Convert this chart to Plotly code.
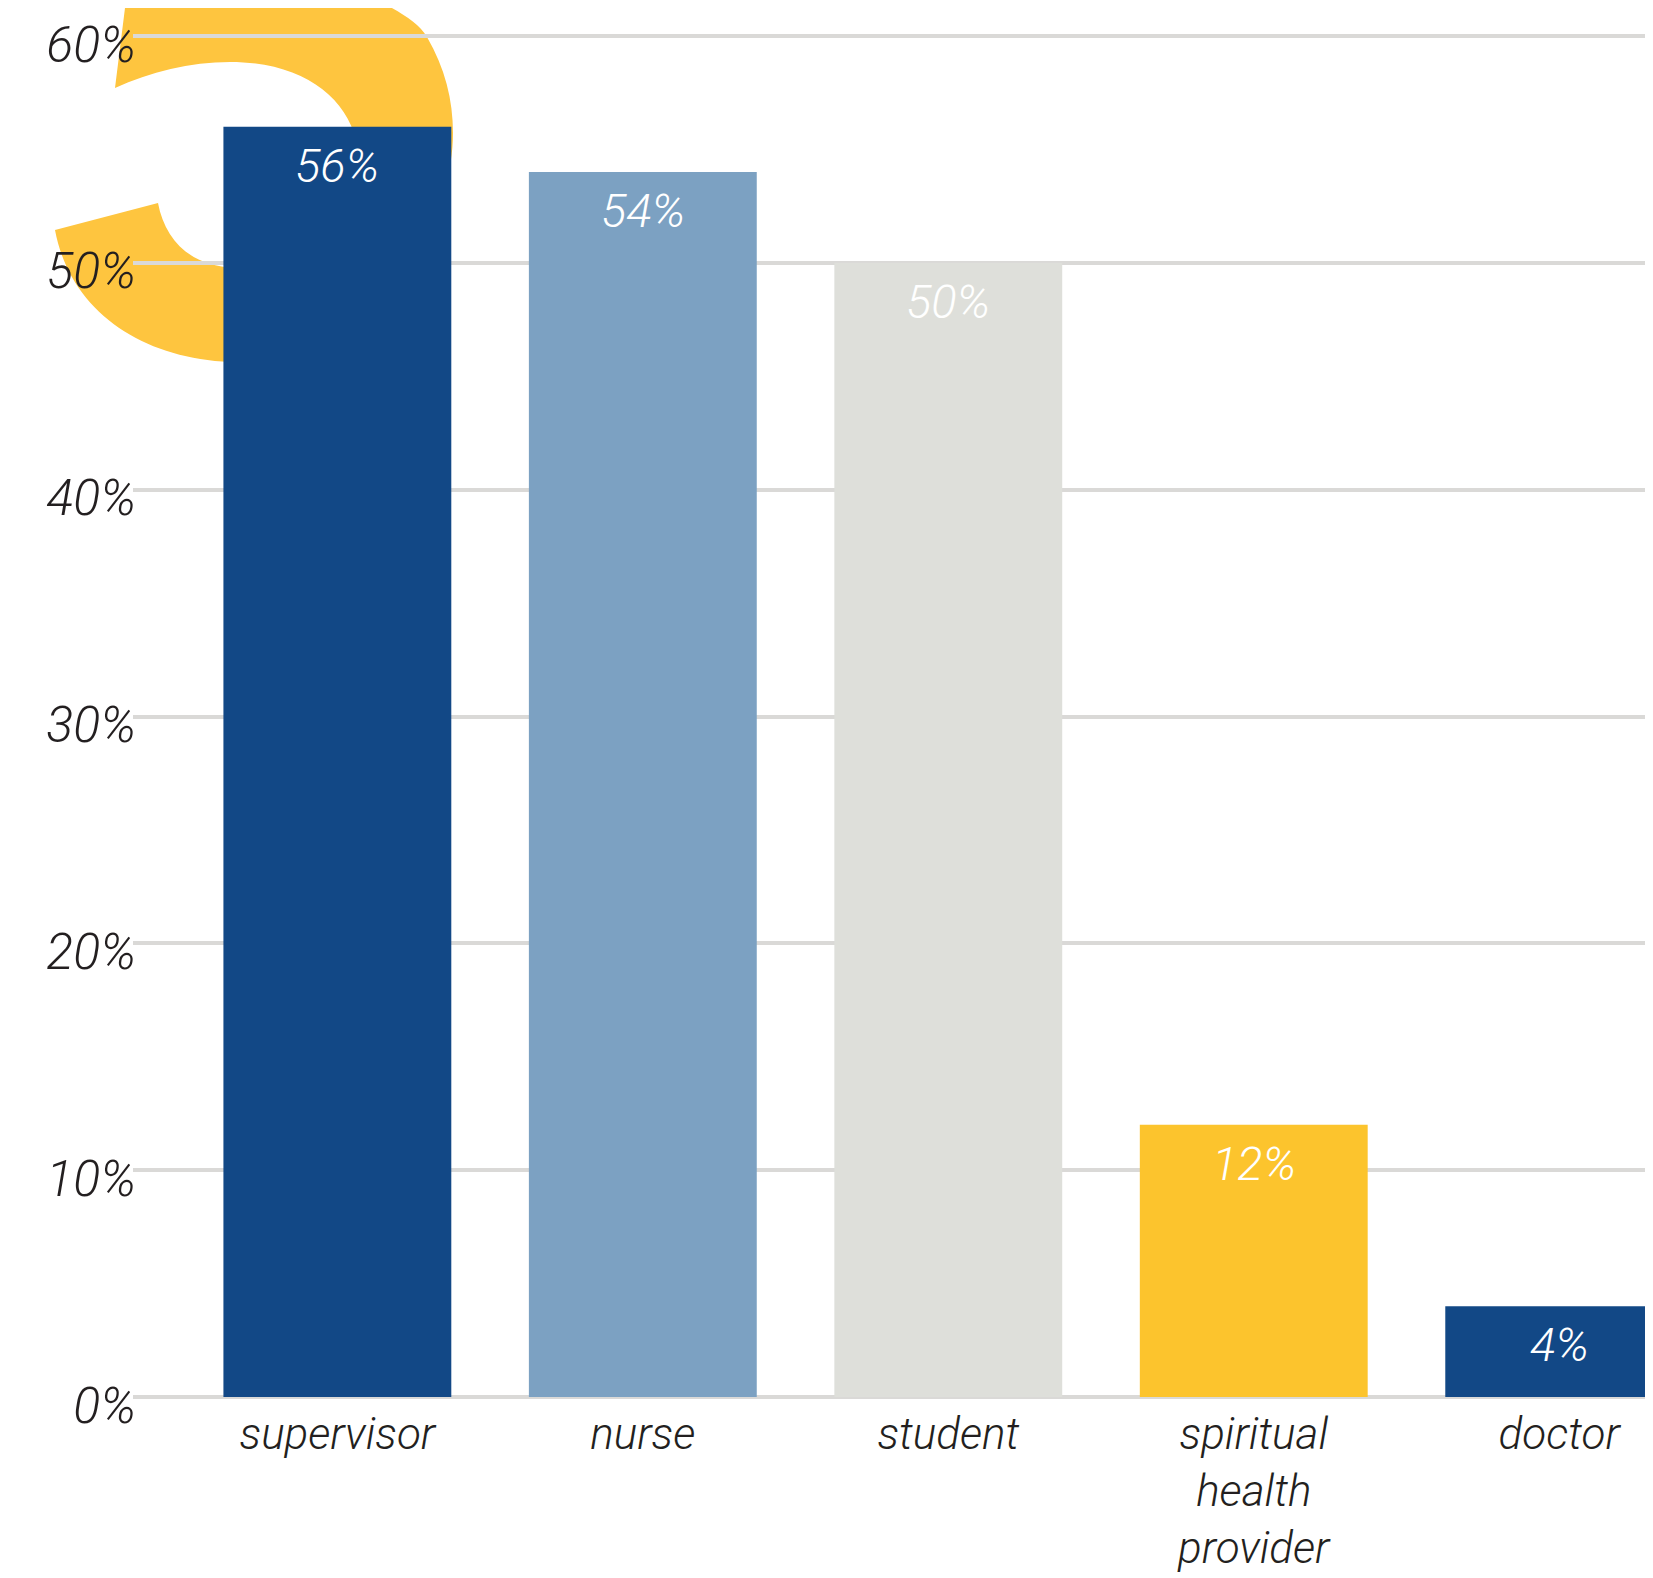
import plotly.graph_objects as go

# data
categories = ["supervisor", "nurse", "student", "spiritual<br>health<br>provider", "doctor"]
values = [56, 54, 50, 12, 4]
bar_colors = ["#124886", "#7ca1c2", "#dedfda", "#fcc42d", "#124886"]
y_ticks = [0, 10, 20, 30, 40, 50, 60]
y_tick_text = [f"{t}%" for t in y_ticks]

# page body has an 8px margin, so the figure is 8px smaller than the window
OFF = 8
W, H = 1653 - OFF, 1578 - OFF
L, R, T, B = 133 - OFF, 0, 34 - OFF, 179
PW, PH = W - L - R, H - T - B

FONT = "Roboto"
TXT = "#231f20"

# decorative big yellow "3" behind the first bar (page pixel outline -> paper coords)
def to_paper(x, y):
    return (x - OFF - L) / PW, (H - B - (y - OFF)) / PH

def build_path(cmds):
    out = []
    for cmd, pts in cmds:
        s = cmd
        for (x, y) in pts:
            px, py = to_paper(x, y)
            s += f" {px:.5f},{py:.5f}"
        out.append(s)
    return " ".join(out)

glyph_top = [
    ("M", [(131, -40)]), ("L", [(320, -40)]),
    ("C", [(350, -20), (365, -8), (377, 0)]),
    ("C", [(400, 12), (418, 22), (427, 37)]),
    ("C", [(445, 68), (453, 100), (453, 133)]),
    ("C", [(453, 170), (440, 220), (410, 250)]),
    ("L", [(356, 250)]), ("L", [(356, 140)]),
    ("C", [(345, 95), (300, 62), (230, 62)]),
    ("C", [(190, 62), (150, 72), (115, 88)]),
    ("Z", []),
]
glyph_bottom = [
    ("M", [(55, 230)]), ("L", [(158, 203)]),
    ("C", [(165, 240), (190, 266), (235, 268)]),
    ("L", [(300, 268)]), ("L", [(300, 362)]), ("L", [(230, 362)]),
    ("C", [(140, 358), (70, 310), (55, 230)]),
    ("Z", []),
]

fig = go.Figure(go.Bar(
    x=categories,
    y=values,
    marker_color=bar_colors,
    marker_line_width=0,
    hoverinfo="x+y"))

for part in (glyph_top, glyph_bottom):
    fig.add_shape(type="path", path=build_path(part), xref="paper", yref="paper",
                  fillcolor="#fec53f", line_width=0, layer="below")

# value labels inside the top of each bar
for c, v in zip(categories, values):
    fig.add_annotation(x=c, y=v, text=f"{v}%", showarrow=False, yanchor="top", yshift=-9,
                       font=dict(family=FONT, size=47, color="white", style="italic", weight=300))

fig.update_layout(
    width=W, height=H,
    margin=dict(l=L, r=R, t=T, b=B, pad=0),
    plot_bgcolor="white", paper_bgcolor="white",
    bargap=0.254, showlegend=False)
fig.update_xaxes(type="category", range=[-0.669, 4.307], showgrid=False, showline=False,
                 ticks="", ticklabelstandoff=5, automargin=False,
                 tickfont=dict(family=FONT, size=44, color=TXT, style="italic", weight=300))
fig.update_yaxes(range=[-0.088, 60.088], tickvals=y_ticks, ticktext=y_tick_text,
                 showgrid=True, gridcolor="#dad9d7", gridwidth=4,
                 zeroline=True, zerolinecolor="#dad9d7", zerolinewidth=4,
                 showline=False, ticks="", ticklabelstandoff=-4, ticklabelshift=8,
                 automargin=False,
                 tickfont=dict(family=FONT, size=50, color=TXT, style="italic", weight=300))

fig.write_html("out.html")
